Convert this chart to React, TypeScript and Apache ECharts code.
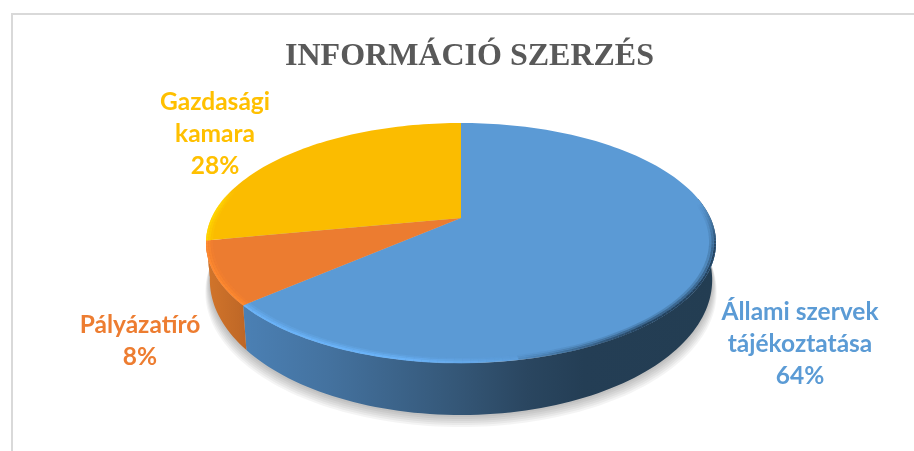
import React, { useEffect, useRef } from "react";
import * as echarts from "echarts";

const categories = ["Állami szervek\ntájékoztatása", "Pályázatíró", "Gazdasági\nkamara"];
const values = [63.6, 8.4, 28];
const faceColors = ["#5b9ad5", "#ec7c30", "#fbbc00"];
const labelColors = ["#5b9bd5", "#ed7d31", "#ffc000"];
const titleText = "INFORMÁCIÓ SZERZÉS";
const labelAnchors = [[800, 342], [140, 339], [215, 132]];

const CX = 461;
const A = 249.4;
const K = -0.2083;
const B = 69.4;
const APEX_Y = 218;
const total = values.reduce((s, v) => s + v, 0);

const topPoint = (deg: number, r = 1) => {
  const t = (deg * Math.PI) / 180;
  const u = r * Math.sin(t);
  const v = -r * Math.cos(t);
  const w = 1 + K * v;
  return [CX + (A * u) / w, (APEX_Y + B * v) / w];
};
const bottomPoint = (deg: number) => {
  const [x, y] = topPoint(deg);
  return [CX + (x - CX) * 0.985, y + 45 + ((y - 307) * 7) / 56];
};
const sliceRange = (i: number) => {
  const before = values.slice(0, i).reduce((s, v) => s + v, 0);
  return [(before / total) * 360, ((before + values[i]) / total) * 360];
};
const arc = (a: number, b: number, f: (d: number) => number[]) => {
  const pts: number[][] = [];
  const n = Math.max(2, Math.ceil(Math.abs(b - a) / 1.5));
  for (let k = 0; k <= n; k++) pts.push(f(a + ((b - a) * k) / n));
  return pts;
};
const hGrad = (x0: number, x1: number, stops: [number, string][]) =>
  new echarts.graphic.LinearGradient(x0, 0, x1, 0, stops.map(([offset, color]) => ({ offset, color })), true);

const sideFills = [
  hGrad(243, 716, [[0, "#4b80b4"], [0.18, "#44729f"], [0.46, "#345676"], [0.6, "#2a4660"], [0.72, "#243e55"], [1, "#233d52"]]),
  hGrad(206, 247, [[0, "#d2752b"], [1, "#bd6626"]]),
  hGrad(206, 247, [[0, "#d2752b"], [1, "#d2752b"]]),
];
const clamp01 = (x: number) => Math.max(0, Math.min(1, x));
// colour of the soft bevel along the front rim, per slice and angle
const rimColor = (i: number, deg: number, fade: number) => {
  if (i === 1) return `rgba(255,138,48,${fade})`;
  if (i === 2) return `rgba(255,214,0,${fade * clamp01((285 - deg) / 10)})`;
  const dark = clamp01((deg - 82) / 22) * clamp01((172 - deg) / 30);
  const light = clamp01((deg - 165) / 25);
  if (dark > light) return `rgba(34,62,88,${dark * fade})`;
  return `rgba(108,180,250,${light * fade})`;
};

export default function App() {
  const ref = useRef<HTMLDivElement>(null);
  useEffect(() => {
    const chart = echarts.init(ref.current!, undefined, { renderer: "svg" });
    const seriesData = values.map((v, i) => ({ name: categories[i], value: [v, i] }));
    chart.setOption({
      animation: false,
      backgroundColor: "#ffffff",
      title: {
        text: titleText,
        left: 464.5,
        top: 33,
        textAlign: "center",
        textStyle: { fontFamily: "Liberation Serif", fontWeight: "bold", fontSize: 32, color: "#595959" },
      },
      graphic: [
        { type: "line", shape: { x1: 12, y1: 14, x2: 12, y2: 451 }, style: { stroke: "#d9d9d9", lineWidth: 2 } },
        { type: "line", shape: { x1: 11, y1: 14, x2: 914, y2: 14 }, style: { stroke: "#d9d9d9", lineWidth: 2 } },
      ],
      series: [
        {
          type: "custom",
          coordinateSystem: "none",
          z: 1,
          data: seriesData,
          renderItem: (_p: any, api: any) => {
            const i = api.value(1);
            const [a, b] = sliceRange(i);
            const s = Math.max(a, 80);
            const e = Math.min(b, 260);
            const children: any[] = [];
            // soft shadow below the disc, drawn once
            if (i === 0) {
              const full = arc(0, 360, bottomPoint);
              for (let k = 6; k >= 1; k--) {
                children.push({
                  type: "polygon",
                  shape: {
                    points: full.map(([x, y]) => [CX + (x - CX) * (1 + k * 0.003), y + k * 2]),
                  },
                  style: { fill: "rgba(0,0,0,0.045)" },
                });
              }
            }
            if (e > s) {
              children.push({
                type: "polygon",
                shape: { points: [...arc(s, e, topPoint), ...arc(e, s, bottomPoint)] },
                style: { fill: sideFills[i] },
              });
            }
            return { type: "group", children };
          },
        },
        {
          type: "custom",
          coordinateSystem: "none",
          z: 2,
          data: seriesData,
          renderItem: (_p: any, api: any) => {
            const i = api.value(1);
            const [a, b] = sliceRange(i);
            const apex = topPoint(0, 0);
            const children: any[] = [
              { type: "polygon", shape: { points: [apex, ...arc(a, b, topPoint)] }, style: { fill: faceColors[i] } },
            ];
            const s = Math.max(a, 80);
            const e = Math.min(b, 285);
            if (e > s) {
              const layers: [number, number][] = [[0.996, 0.95], [0.987, 0.55], [0.978, 0.22]];
              layers.forEach(([r, fade]) => {
                const pts = arc(s, e, (d) => topPoint(d, r));
                const degs = arc(s, e, (d) => [d]);
                for (let k = 0; k < pts.length - 1; k++) {
                  children.push({
                    type: "line",
                    shape: { x1: pts[k][0], y1: pts[k][1], x2: pts[k + 1][0], y2: pts[k + 1][1] },
                    style: { stroke: rimColor(i, degs[k][0], fade), lineWidth: 2.2, lineCap: "butt" },
                  });
                }
              });
            }
            return { type: "group", children };
          },
        },
        {
          type: "custom",
          coordinateSystem: "none",
          z: 3,
          data: seriesData,
          renderItem: (_p: any, api: any) => {
            const i = api.value(1);
            const pct = Math.round((values[i] / total) * 100);
            return {
              type: "text",
              style: {
                x: labelAnchors[i][0],
                y: labelAnchors[i][1],
                text: `${categories[i]}\n${pct}%`,
                align: "center",
                verticalAlign: "middle",
                fontFamily: "Lato",
                fontWeight: "bold",
                fontSize: 24.5,
                lineHeight: 32,
                fill: labelColors[i],
              },
            };
          },
        },
      ],
    });
    return () => chart.dispose();
  }, []);
  return <div ref={ref} style={{ position: "fixed", left: 0, top: 0, width: 914, height: 451, filter: "blur(0.45px)" }} />;
}
